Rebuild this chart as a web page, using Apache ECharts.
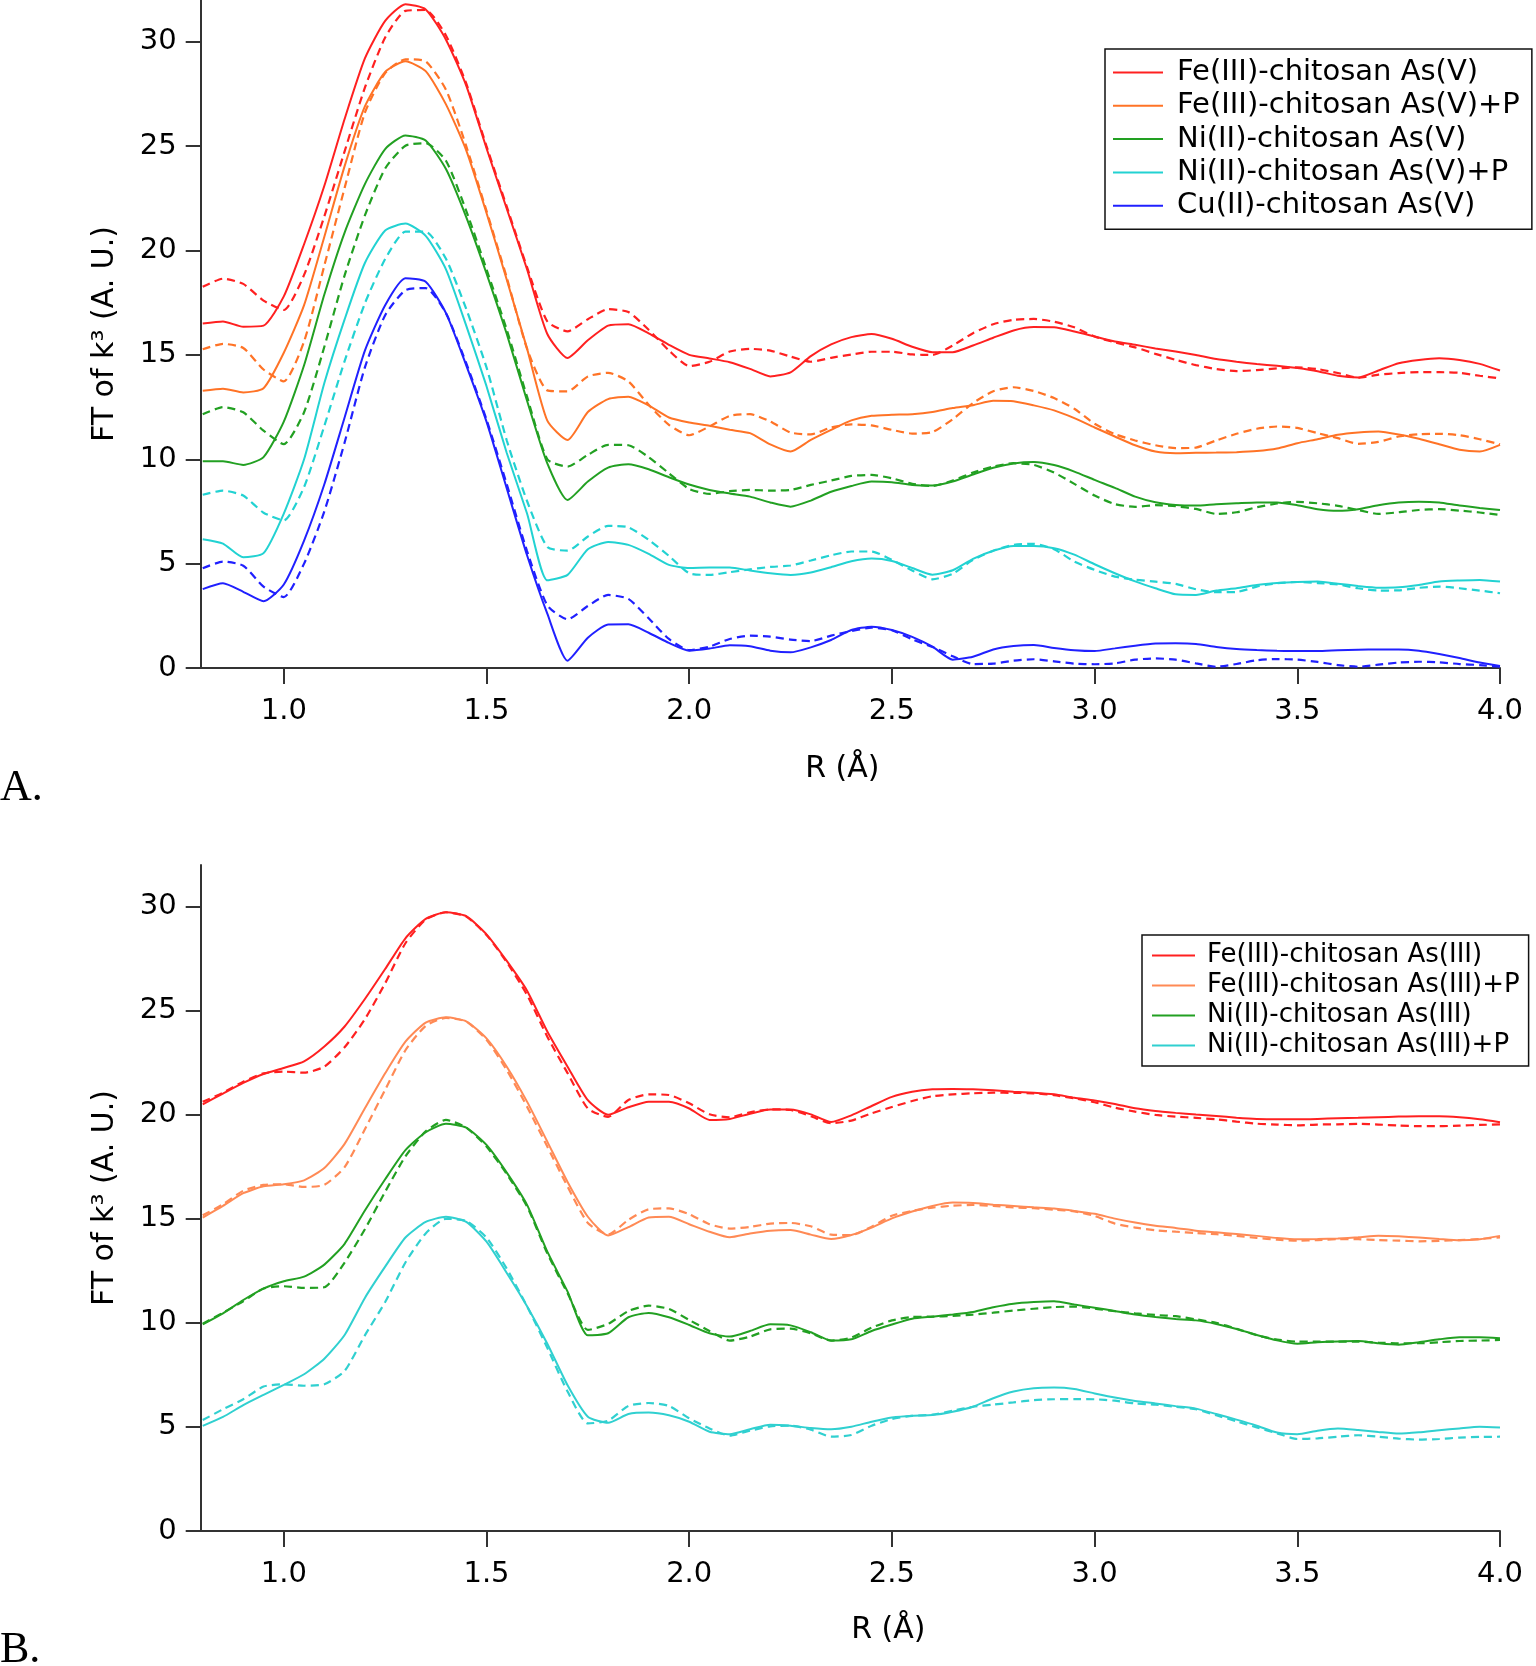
<!DOCTYPE html>
<html>
<head>
<meta charset="utf-8">
<script src="https://cdn.jsdelivr.net/npm/echarts@6/dist/echarts.min.js"></script>
<style>
html,body{margin:0;padding:0;background:#fff;}
#chart{width:1536px;height:1666px;}
</style>
</head>
<body>
<div id="chart"></div>
<script>
// R grid (Å)
const R = [0.80,0.85,0.90,0.95,1.00,1.05,1.10,1.15,1.20,1.25,
1.30,1.35,1.40,1.45,1.50,1.55,1.60,1.65,1.70,1.75,
1.80,1.85,1.90,1.95,2.00,2.05,2.10,2.15,2.20,2.25,
2.30,2.35,2.40,2.45,2.50,2.55,2.60,2.65,2.70,2.75,
2.80,2.85,2.90,2.95,3.00,3.05,3.10,3.15,3.20,3.25,
3.30,3.35,3.40,3.45,3.50,3.55,3.60,3.65,3.70,3.75,
3.80,3.85,3.90,3.95,4.00];

const xTicks = [1.0,1.5,2.0,2.5,3.0,3.5,4.0];
const yTicks = [0,5,10,15,20,25,30];

// ---- Panel A : As(V) ----
const A_FeV = [16.5,16.6,16.35,16.4,17.8,20.3,23.1,26.3,29.2,31.0,
31.8,31.55,30.1,27.9,24.9,22.0,19.1,16.0,14.85,15.7,
16.4,16.47,16.03,15.48,15.0,14.83,14.65,14.33,13.97,14.16,
14.94,15.5,15.85,16.0,15.77,15.39,15.13,15.13,15.45,15.82,
16.17,16.33,16.32,16.12,15.88,15.64,15.48,15.31,15.16,14.99,
14.8,14.67,14.56,14.48,14.37,14.22,14.0,13.92,14.25,14.6,
14.76,14.84,14.76,14.57,14.25];
const A_FeV_fit = [18.26,18.65,18.4,17.6,17.15,18.83,21.64,24.75,27.8,30.2,
31.48,31.52,30.3,28.0,25.0,22.1,19.2,16.6,16.13,16.71,
17.19,17.05,16.2,15.21,14.46,14.67,15.16,15.29,15.2,14.92,
14.67,14.86,15.02,15.15,15.15,15.02,15.0,15.45,16.04,16.47,
16.68,16.72,16.59,16.32,15.88,15.6,15.36,15.05,14.76,14.51,
14.32,14.22,14.27,14.35,14.4,14.32,14.13,13.9,14.05,14.13,
14.17,14.17,14.14,14.0,13.87];
const A_FeVP = [13.28,13.38,13.2,13.4,15.1,17.38,20.66,24.04,26.9,28.55,
29.06,28.59,27.0,24.8,21.8,18.6,15.3,11.85,10.92,12.26,
12.88,13.0,12.58,12.0,11.76,11.6,11.41,11.25,10.71,10.37,
10.93,11.41,11.86,12.08,12.13,12.16,12.26,12.45,12.59,12.8,
12.78,12.58,12.34,11.97,11.52,11.09,10.67,10.37,10.29,10.31,
10.32,10.34,10.39,10.51,10.77,10.96,11.17,11.28,11.33,11.19,
10.98,10.72,10.45,10.37,10.69];
const A_FeVP_fit = [15.27,15.53,15.33,14.3,13.73,15.64,19.28,23.0,26.6,28.5,
29.16,29.06,27.7,25.0,21.9,18.7,15.3,13.3,13.25,13.97,
14.14,13.73,12.61,11.65,11.15,11.57,12.08,12.16,11.81,11.28,
11.19,11.52,11.67,11.62,11.41,11.23,11.3,11.92,12.69,13.26,
13.45,13.27,12.93,12.42,11.7,11.2,10.9,10.67,10.53,10.56,
10.9,11.22,11.46,11.57,11.5,11.25,11.01,10.74,10.83,11.09,
11.2,11.22,11.15,10.96,10.71];
const A_NiV = [9.9,9.9,9.73,10.1,11.8,14.5,17.89,20.86,23.18,24.86,
25.51,25.27,23.9,21.6,18.9,16.0,12.8,9.8,8.05,8.93,
9.6,9.76,9.52,9.14,8.79,8.53,8.36,8.21,7.93,7.73,
8.02,8.44,8.72,8.93,8.9,8.77,8.74,8.93,9.27,9.59,
9.8,9.87,9.72,9.41,9.01,8.63,8.21,7.94,7.81,7.78,
7.85,7.89,7.93,7.93,7.8,7.61,7.53,7.61,7.8,7.93,
7.97,7.93,7.78,7.67,7.57];
const A_NiV_fit = [12.15,12.5,12.25,11.37,10.72,12.25,15.39,18.81,21.68,23.93,
25.02,25.14,24.3,21.9,19.1,16.2,13.0,10.0,9.65,10.21,
10.69,10.67,10.1,9.33,8.58,8.34,8.47,8.53,8.5,8.53,
8.77,8.98,9.2,9.25,9.09,8.82,8.72,8.98,9.36,9.65,
9.81,9.73,9.36,8.82,8.26,7.85,7.72,7.8,7.75,7.62,
7.38,7.46,7.7,7.88,7.96,7.89,7.77,7.57,7.38,7.46,
7.57,7.61,7.54,7.45,7.33];
const A_NiVP = [6.17,5.96,5.3,5.5,7.4,10.0,13.65,16.7,19.4,20.96,
21.29,20.7,19.1,16.4,13.5,10.3,7.4,4.2,4.46,5.69,
6.04,5.9,5.47,4.94,4.79,4.81,4.81,4.67,4.54,4.46,
4.57,4.83,5.11,5.24,5.13,4.79,4.47,4.68,5.23,5.62,
5.85,5.85,5.74,5.43,4.97,4.54,4.15,3.82,3.53,3.5,
3.71,3.82,3.98,4.07,4.12,4.14,4.04,3.93,3.85,3.87,
3.98,4.14,4.19,4.22,4.14];
const A_NiVP_fit = [8.3,8.5,8.26,7.44,7.07,8.67,11.6,14.7,17.47,19.59,
20.9,20.9,19.6,17.2,14.4,10.9,8.0,5.8,5.62,6.3,
6.81,6.74,6.14,5.37,4.54,4.46,4.59,4.73,4.84,4.91,
5.15,5.4,5.58,5.58,5.18,4.67,4.25,4.51,5.18,5.62,
5.9,5.95,5.69,5.1,4.7,4.38,4.23,4.14,4.03,3.77,
3.63,3.64,3.9,4.06,4.12,4.07,4.0,3.82,3.71,3.72,
3.84,3.9,3.82,3.71,3.58];
const A_CuV = [3.78,4.06,3.65,3.2,4.0,6.1,8.8,12.0,15.2,17.38,
18.67,18.5,17.0,14.5,11.8,8.6,5.4,2.6,0.35,1.45,
2.08,2.09,1.69,1.2,0.83,0.93,1.09,1.04,0.83,0.75,
0.99,1.34,1.82,1.98,1.82,1.49,1.02,0.4,0.54,0.89,
1.05,1.1,0.96,0.85,0.81,0.94,1.07,1.17,1.18,1.15,
1.01,0.91,0.86,0.83,0.81,0.81,0.85,0.88,0.89,0.89,
0.83,0.67,0.48,0.26,0.1];
const A_CuV_fit = [4.78,5.1,4.9,3.9,3.4,5.0,7.5,10.8,14.4,16.9,
18.1,18.2,17.0,14.6,11.9,8.8,5.6,3.0,2.33,2.97,
3.5,3.31,2.38,1.39,0.86,1.02,1.39,1.55,1.5,1.36,
1.29,1.55,1.77,1.93,1.81,1.37,1.01,0.56,0.19,0.21,
0.35,0.42,0.32,0.21,0.18,0.22,0.4,0.46,0.4,0.22,
0.06,0.19,0.37,0.43,0.4,0.29,0.14,0.06,0.16,0.26,
0.3,0.27,0.19,0.14,0.06];

// ---- Panel B : As(III) ----
const B_FeIII = [20.5,21.02,21.53,21.96,22.25,22.57,23.28,24.24,25.56,27.0,
28.48,29.41,29.73,29.54,28.67,27.39,25.96,24.0,22.31,20.7,
20.0,20.36,20.63,20.62,20.3,19.75,19.8,20.05,20.25,20.25,
20.02,19.65,19.97,20.42,20.86,21.1,21.22,21.24,21.22,21.18,
21.11,21.06,20.98,20.82,20.69,20.52,20.31,20.18,20.09,20.01,
19.94,19.86,19.8,19.78,19.78,19.8,19.83,19.85,19.88,19.91,
19.93,19.93,19.88,19.78,19.64];
const B_FeIII_fit = [20.62,21.06,21.59,21.99,22.07,22.02,22.31,23.24,24.59,26.32,
28.24,29.38,29.73,29.52,28.64,27.33,25.76,23.75,22.0,20.3,
19.9,20.71,20.98,20.95,20.55,20.02,19.88,20.12,20.26,20.23,
19.93,19.59,19.72,20.07,20.37,20.66,20.89,20.98,21.03,21.06,
21.05,21.03,20.94,20.79,20.6,20.34,20.15,19.99,19.91,19.85,
19.78,19.67,19.57,19.53,19.49,19.53,19.54,19.56,19.53,19.48,
19.45,19.45,19.48,19.51,19.54];
const B_FeIIIP = [15.06,15.62,16.23,16.56,16.66,16.85,17.44,18.6,20.31,21.99,
23.51,24.43,24.68,24.49,23.67,22.31,20.63,18.71,16.77,15.1,
14.2,14.6,15.06,15.1,14.74,14.38,14.11,14.29,14.43,14.46,
14.24,14.03,14.22,14.58,15.02,15.35,15.62,15.78,15.76,15.68,
15.62,15.55,15.49,15.38,15.24,15.01,14.82,14.67,14.56,14.43,
14.35,14.27,14.18,14.08,14.02,14.03,14.06,14.11,14.19,14.16,
14.1,14.03,13.97,14.02,14.18];
const B_FeIIIP_fit = [15.17,15.7,16.35,16.63,16.66,16.53,16.63,17.48,19.3,21.2,
23.1,24.27,24.65,24.48,23.6,22.15,20.39,18.47,16.55,14.8,
14.25,14.95,15.46,15.5,15.22,14.74,14.53,14.61,14.77,14.8,
14.64,14.24,14.22,14.62,15.15,15.38,15.54,15.63,15.67,15.62,
15.55,15.51,15.44,15.36,15.14,14.77,14.58,14.45,14.38,14.32,
14.26,14.18,14.08,14.0,13.95,13.98,14.02,14.02,13.98,13.95,
13.92,13.94,13.98,14.03,14.11];
const B_NiIII = [9.93,10.46,11.1,11.65,12.0,12.22,12.8,13.8,15.4,16.9,
18.3,19.16,19.57,19.38,18.55,17.22,15.67,13.42,11.5,9.4,
9.5,10.27,10.48,10.27,9.9,9.5,9.34,9.61,9.93,9.88,
9.55,9.15,9.21,9.61,9.92,10.2,10.3,10.4,10.52,10.75,
10.92,11.0,11.04,10.88,10.73,10.57,10.4,10.28,10.19,10.12,
9.95,9.71,9.42,9.16,9.0,9.07,9.11,9.13,9.02,8.95,
9.07,9.21,9.31,9.31,9.26];
const B_NiIII_fit = [9.96,10.49,11.04,11.65,11.76,11.68,11.71,12.9,14.5,16.3,
18.0,19.2,19.75,19.38,18.47,17.15,15.59,13.34,11.42,9.66,
9.95,10.57,10.83,10.67,10.14,9.61,9.15,9.34,9.69,9.72,
9.5,9.15,9.29,9.77,10.12,10.28,10.3,10.33,10.4,10.49,
10.59,10.68,10.76,10.78,10.69,10.56,10.46,10.38,10.32,10.17,
10.0,9.72,9.4,9.2,9.1,9.1,9.1,9.1,9.05,9.02,
9.02,9.07,9.13,9.15,9.18];
const B_NiIIIP = [5.05,5.48,6.05,6.54,7.02,7.53,8.28,9.42,11.2,12.7,
14.1,14.85,15.1,14.85,13.9,12.4,10.8,9.0,7.0,5.49,
5.2,5.62,5.69,5.56,5.25,4.77,4.65,4.89,5.11,5.06,
4.95,4.89,5.01,5.25,5.45,5.54,5.57,5.73,5.97,6.38,
6.7,6.86,6.89,6.82,6.61,6.41,6.25,6.13,6.0,5.88,
5.62,5.35,5.06,4.73,4.65,4.82,4.92,4.85,4.76,4.68,
4.74,4.84,4.93,5.01,4.97];
const B_NiIIIP_fit = [5.33,5.85,6.33,6.94,7.05,6.98,7.05,7.69,9.4,11.0,
12.9,14.3,15.0,14.9,14.1,12.6,10.8,8.8,6.7,5.17,
5.3,6.01,6.15,6.01,5.41,4.93,4.58,4.82,5.03,5.06,
4.87,4.53,4.61,5.06,5.38,5.53,5.59,5.78,5.97,6.07,
6.18,6.29,6.33,6.34,6.33,6.26,6.13,6.07,5.97,5.85,
5.56,5.27,4.98,4.69,4.42,4.45,4.53,4.6,4.53,4.44,
4.39,4.42,4.49,4.52,4.53];

const namesA = ['Fe(III)-chitosan As(V)','Fe(III)-chitosan As(V)+P','Ni(II)-chitosan As(V)','Ni(II)-chitosan As(V)+P','Cu(II)-chitosan As(V)'];
const namesB = ['Fe(III)-chitosan As(III)','Fe(III)-chitosan As(III)+P','Ni(II)-chitosan As(III)','Ni(II)-chitosan As(III)+P'];
const colorsA = ['#ff2020','#ff7326','#22a022','#22d2d2','#2020ff'];
const colorsB = ['#ff2020','#ff8a55','#22a022','#30d0d0'];

const dataA = [A_FeV, A_FeVP, A_NiV, A_NiVP, A_CuV];
const fitsA = [A_FeV_fit, A_FeVP_fit, A_NiV_fit, A_NiVP_fit, A_CuV_fit];
const dataB = [B_FeIII, B_FeIIIP, B_NiIII, B_NiIIIP];
const fitsB = [B_FeIII_fit, B_FeIIIP_fit, B_NiIII_fit, B_NiIIIP_fit];

const FONT = 'DejaVu Sans';
const pairs = vals => R.map((r, i) => [r, vals[i]]);

function lineSeries(name, vals, color, idx, dashed) {
  return {
    name: name, type: 'line', xAxisIndex: idx, yAxisIndex: idx,
    data: pairs(vals), showSymbol: false, symbol: 'none',
    smooth: 0.2, silent: true, z: dashed ? 3 : 4,
    color: color,
    itemStyle: {color: color},
    lineStyle: {color: color, width: dashed ? 2.2 : 2, type: dashed ? [8, 5] : 'solid'}
  };
}

const series = [];
namesA.forEach((n, i) => {
  series.push(lineSeries(n + ' fit', fitsA[i], colorsA[i], 0, true));
  series.push(lineSeries(n, dataA[i], colorsA[i], 0, false));
});
namesB.forEach((n, i) => {
  series.push(lineSeries(n + ' fit', fitsB[i], colorsB[i], 1, true));
  series.push(lineSeries(n, dataB[i], colorsB[i], 1, false));
});

function xAxis(idx, pad, gap) {
  return {
    type: 'value', gridIndex: idx, min: 0.795, max: 4.0,
    name: 'R (Å)', nameLocation: 'middle', nameGap: gap,
    nameTextStyle: {fontFamily: FONT, fontSize: 30, color: '#000', padding: pad},
    axisLine: {show: true, onZero: false, lineStyle: {color: '#333', width: 2}},
    axisTick: {show: true, inside: false, length: 16, customValues: xTicks, lineStyle: {color: '#333', width: 2}},
    axisLabel: {customValues: xTicks, formatter: v => v.toFixed(1), fontFamily: FONT, fontSize: 29, color: '#000', margin: 29},
    splitLine: {show: false}
  };
}
function yAxis(idx) {
  return {
    type: 'value', gridIndex: idx, min: 0, max: 32,
    name: 'FT of k³ (A. U.)', nameLocation: 'middle', nameRotate: 90, nameGap: 80,
    nameTextStyle: {fontFamily: FONT, fontSize: 30, color: '#000'},
    axisLine: {show: true, onZero: false, lineStyle: {color: '#333', width: 2}},
    axisTick: {show: true, inside: false, length: 15, customValues: yTicks, lineStyle: {color: '#333', width: 2}},
    axisLabel: {customValues: yTicks, fontFamily: FONT, fontSize: 29, color: '#000', margin: 24},
    splitLine: {show: false}
  };
}

const option = {
  animation: false,
  backgroundColor: '#fff',
  grid: [
    {left: 200.7, right: 36, top: 0, height: 668},
    {left: 200.7, right: 36, top: 865, height: 666}
  ],
  xAxis: [xAxis(0, [0, 16, 0, 0], 86), xAxis(1, [0, 0, 0, 76], 84)],
  yAxis: [yAxis(0), yAxis(1)],
  legend: [
    {
      data: namesA, left: 1105, top: 49, orient: 'vertical',
      padding: [9, 12, 9, 8], itemGap: 4.3, itemWidth: 50, itemHeight: 2, icon: 'rect',
      borderColor: '#111', borderWidth: 1.5, backgroundColor: '#fff', selectedMode: false,
      textStyle: {fontFamily: FONT, fontSize: 29, lineHeight: 29, color: '#000', padding: [0, 0, 0, 9]}
    },
    {
      data: namesB, left: 1142, top: 935, orient: 'vertical',
      padding: [7.5, 9, 7.5, 10], itemGap: 4, itemWidth: 43, itemHeight: 2, icon: 'rect',
      borderColor: '#111', borderWidth: 1.5, backgroundColor: '#fff', selectedMode: false,
      textStyle: {fontFamily: FONT, fontSize: 26, lineHeight: 26, color: '#000', padding: [0, 0, 0, 7]}
    }
  ],
  graphic: [
    {type: 'text', left: 0, top: 766, style: {text: 'A.', fontFamily: 'Liberation Serif', fontSize: 44, fill: '#000'}},
    {type: 'text', left: 0, top: 1628, style: {text: 'B.', fontFamily: 'Liberation Serif', fontSize: 44, fill: '#000'}}
  ],
  series: series
};

const chart = echarts.init(document.getElementById('chart'), null, {renderer: 'canvas', width: 1536, height: 1666});
chart.setOption(option);
</script>
</body>
</html>
